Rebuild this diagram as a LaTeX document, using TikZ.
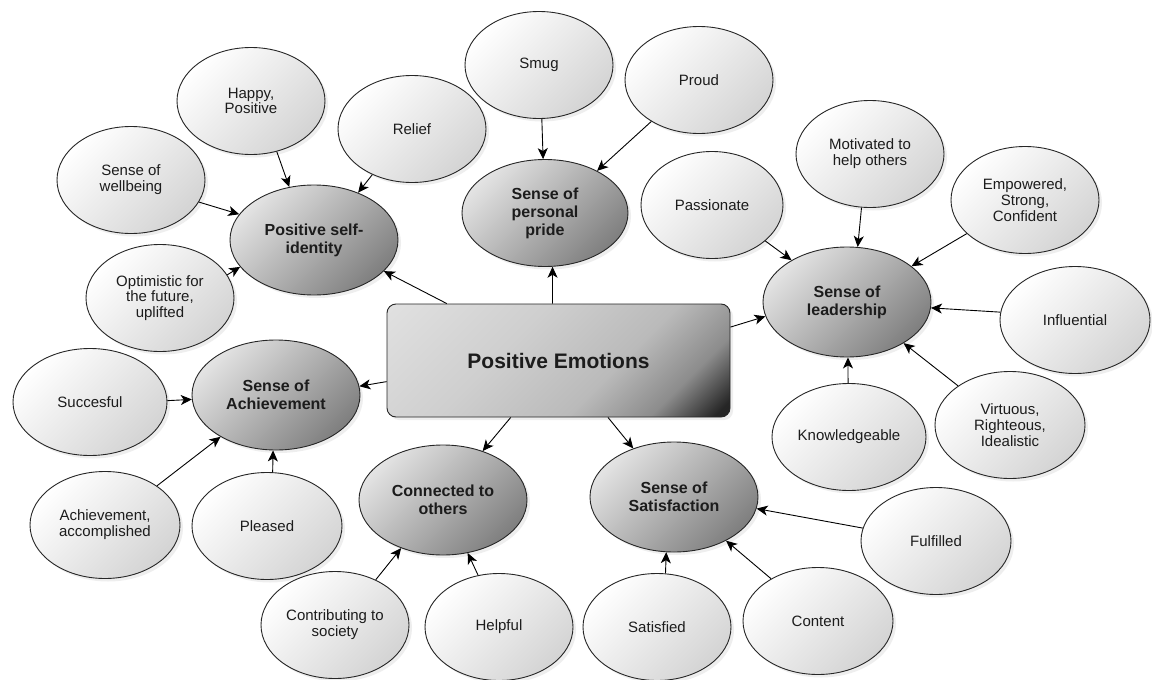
\documentclass[tikz,border=0pt]{standalone}
\usepackage{fontspec}
\setmainfont{Liberation Sans}
\usetikzlibrary{shapes.geometric,arrows.meta,shadows}

\definecolor{ink}{HTML}{1C1C1C}
\definecolor{rim}{HTML}{262626}

% light grey box with a dark lower-right corner
\pgfdeclareverticalshading{boxshade}{100bp}{%
  color(0bp)=(black!95); color(17bp)=(black!85); color(27bp)=(black!45);
  color(40bp)=(black!27); color(60bp)=(black!19); color(85bp)=(black!12); color(100bp)=(black!10)}

\tikzset{
  bubble/.style={ellipse, draw=rim, line width=0.9pt, inner sep=0pt, align=center, text=ink,
    minimum width=148pt, minimum height=107pt,
    top color=white, bottom color=black!17, shading angle=45,
    drop shadow={opacity=0.13, shadow xshift=3pt, shadow yshift=-3pt},
    font=\fontsize{15}{15.8}\selectfont},
  hub/.style={bubble, minimum width=168pt, minimum height=110pt,
    top color=black!11, bottom color=black!50, shading angle=45,
    font=\fontsize{16}{18}\selectfont\bfseries},
  core/.style={rectangle, rounded corners=9pt, draw=rim, line width=0.9pt, align=center, text=ink,
    minimum width=343pt, minimum height=113pt,
    shading=boxshade, shading angle=45,
    drop shadow={opacity=0.13, shadow xshift=3pt, shadow yshift=-3pt},
    font=\fontsize{21}{23}\selectfont\bfseries},
  link/.style={draw=black, line width=0.9pt, -{Stealth[length=11pt,width=10pt,inset=3pt]}}
}

\begin{document}
\begin{tikzpicture}[x=1pt, y=-1pt]
\useasboundingbox[fill=white] (0,0) rectangle (1152,680);

% central box
\node[core] (pe) at (558.5,360.5) {Positive Emotions};

% positive self-identity cluster
\node[bubble] (happy) at (251,101) {Happy,\\Positive};
\node[bubble] (relief) at (412,129) {Relief};
\node[bubble] (wellbeing) at (131,180) {Sense of\\wellbeing};
\node[bubble] (optimistic) at (160,298) {Optimistic for\\the future,\\uplifted};
\node[hub] (psi) at (314,240) {Positive self-\\identity};

% personal pride cluster
\node[bubble] (smug) at (539,65) {Smug};
\node[bubble] (proud) at (699,80) {Proud};
\node[hub, minimum width=166pt, minimum height=107pt] (pride) at (545,213) {Sense of\\personal\\pride};

% leadership cluster
\node[bubble, minimum width=142pt] (passionate) at (712,205) {Passionate};
\node[bubble] (motivated) at (870,154) {Motivated to\\help others};
\node[bubble] (empowered) at (1025,200) {Empowered,\\Strong,\\Confident};
\node[hub] (lead) at (847,302) {Sense of\\leadership};
\node[bubble, minimum width=150pt] (influential) at (1075,320) {Influential};
\node[bubble, minimum width=154pt] (knowledge) at (849,437) {Knowledgeable};
\node[bubble, minimum width=150pt] (virtuous) at (1010,425) {Virtuous,\\Righteous,\\Idealistic};

% achievement cluster
\node[bubble, minimum width=154pt] (successful) at (90,402) {Succesful};
\node[hub] (ach) at (276,395) {Sense of\\Achievement};
\node[bubble, minimum width=150pt] (accomplished) at (105,525) {Achievement,\\accomplished};
\node[bubble, minimum width=150pt] (pleased) at (267,526) {Pleased};

% connected cluster
\node[hub] (conn) at (443,500) {Connected to\\others};
\node[bubble] (contrib) at (335,625) {Contributing to\\society};
\node[bubble] (helpful) at (499,627) {Helpful};

% satisfaction cluster
\node[hub] (sat) at (674,497) {Sense of\\Satisfaction};
\node[bubble] (satisfied) at (657,627) {Satisfied};
\node[bubble, minimum width=150pt] (content) at (818,621) {Content};
\node[bubble, minimum width=150pt] (fulfilled) at (936,541) {Fulfilled};

% links from the central box
\draw[link] (pe.153.9) -- (psi.-24.3);
\draw[link] (pe.96.6) -- (pride.-82.7);
\draw[link] (pe.11.6) -- (lead.190.1);
\draw[link] (pe.187.5) -- (ach.6.8);
\draw[link] (pe.230) -- (conn.51);
\draw[link] (pe.-49.4) -- (sat.130);

% feeders
\draw[link] (happy.-63.9) -- (psi.115.7);
\draw[link] (relief.229.4) -- (psi.47.5);
\draw[link] (wellbeing.-18.4) -- (psi.161.8);
\draw[link] (optimistic.19.7) -- (psi.200.3);

\draw[link] (smug.-87) -- (pride.92);
\draw[link] (proud.221.9) -- (pride.39.1);

\draw[link] (passionate.-34.6) -- (lead.143.6);
\draw[link] (motivated.261.6) -- (lead.79.7);
\draw[link] (empowered.210.7) -- (lead.29.3);
\draw[link] (influential.174.7) -- (lead.-4.7);
\draw[link] (knowledge.91) -- (lead.-89);
\draw[link] (virtuous.143) -- (lead.-36.9);

\draw[link] (successful.1.5) -- (ach.183.4);
\draw[link] (accomplished.37.7) -- (ach.217.8);
\draw[link] (pleased.84.7) -- (ach.-93);

\draw[link] (contrib.48.2) -- (conn.229);
\draw[link] (helpful.112.9) -- (conn.-65.6);

\draw[link] (satisfied.81.6) -- (sat.-98);
\draw[link] (content.138.1) -- (sat.-40.4);
\draw[link] (fulfilled.170) -- (sat.-8.9);
\end{tikzpicture}
\end{document}
